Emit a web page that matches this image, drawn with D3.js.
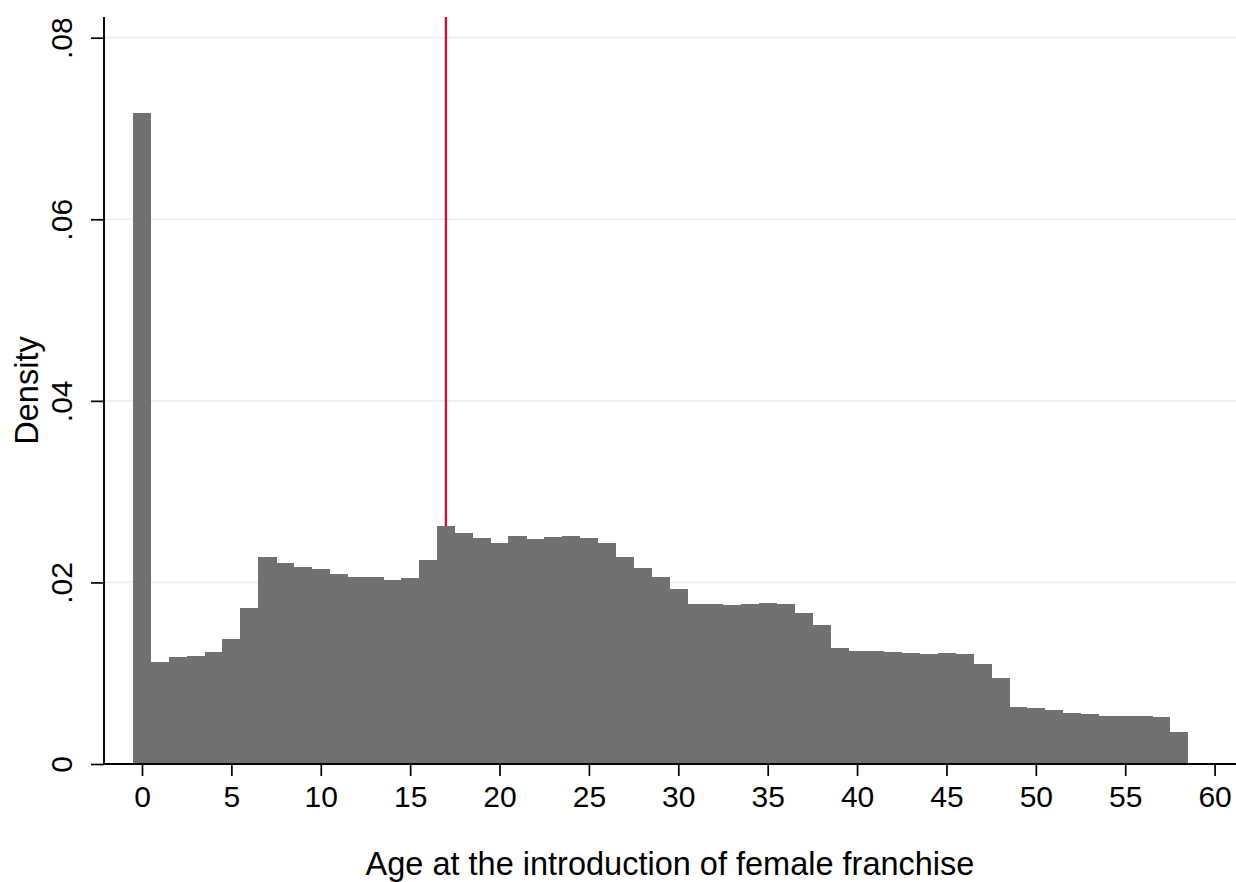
<!DOCTYPE html>
<html>
<head>
<meta charset="utf-8">
<script src="https://cdn.jsdelivr.net/npm/d3@7"></script>
<style>
  html, body { margin: 0; padding: 0; background: #fff; }
  svg { display: block; }
  text { font-family: Arial, "Liberation Sans", Helvetica, sans-serif; fill: #000; }
</style>
</head>
<body>
<script>
// Bin centers (age, width 1) and density values
const binCenters = [0,1,2,3,4,5,6,7,8,9,10,11,12,13,14,15,16,17,18,19,20,21,22,23,24,25,26,27,28,29,30,31,32,33,34,35,36,37,38,39,40,41,42,43,44,45,46,47,48,49,50,51,52,53,54,55,56,57,58];
const densities = [
  0.0717, 0.0112, 0.01175, 0.01186, 0.01233, 0.01377, 0.01714, 0.0228, 0.02217, 0.02166,
  0.02148, 0.02089, 0.02056, 0.02056, 0.0203, 0.02045, 0.02243, 0.02621, 0.0254, 0.02485,
  0.02437, 0.02511, 0.02478, 0.025, 0.02507, 0.02489, 0.02434, 0.02283, 0.02159, 0.02056,
  0.01927, 0.01766, 0.01764, 0.01751, 0.01758, 0.01777, 0.01766, 0.0166, 0.01527, 0.01278,
  0.01241, 0.01241, 0.01233, 0.01222, 0.01208, 0.01219, 0.01211, 0.01105, 0.00944, 0.00624,
  0.0062, 0.00598, 0.00565, 0.00554, 0.00532, 0.00532, 0.00525, 0.00514, 0.00349
];
const binWidth = 1;
const xTicks = [0,5,10,15,20,25,30,35,40,45,50,55,60];
const yTicks = [0, 0.02, 0.04, 0.06, 0.08];
const yTickLabels = ["0", ".02", ".04", ".06", ".08"];
const refLineX = 17;
const xTitle = "Age at the introduction of female franchise";
const yTitle = "Density";

const W = 1236, H = 882;
const plotLeft = 104, plotRight = 1236, plotTop = 17, plotBottom = 764;

const svg = d3.select("body").append("svg").attr("width", W).attr("height", H);

const x = d3.scaleLinear().domain([0, 60]).range([142, 1214.6]);
const y = d3.scaleLinear().domain([0, 0.08]).range([764, 37.7]);

// gridlines
svg.append("g").selectAll("line")
  .data(yTicks.filter(d => d > 0))
  .join("line")
  .attr("x1", plotLeft).attr("x2", plotRight)
  .attr("y1", d => y(d)).attr("y2", d => y(d))
  .attr("stroke", "#e8f0f2").attr("stroke-width", 1.8);

// reference line
svg.append("line")
  .attr("x1", x(refLineX)).attr("x2", x(refLineX))
  .attr("y1", plotTop).attr("y2", plotBottom)
  .attr("stroke", "#d0103a").attr("stroke-width", 2.4);

// bars
svg.append("g").attr("shape-rendering", "crispEdges").selectAll("rect")
  .data(binCenters.map((c, i) => ({c, v: densities[i]})))
  .join("rect")
  .attr("x", d => x(d.c - binWidth / 2))
  .attr("width", d => x(d.c + binWidth / 2) - x(d.c - binWidth / 2) + 0.5)
  .attr("y", d => y(d.v))
  .attr("height", d => y(0) - y(d.v))
  .attr("fill", "#717171");

// x axis
const xAxis = d3.axisBottom(x).tickValues(xTicks).tickSize(12).tickPadding(8).tickFormat(d3.format("d"));
const gx = svg.append("g").attr("transform", `translate(0,${plotBottom})`).call(xAxis);
gx.select(".domain").remove();
gx.selectAll(".tick line").attr("stroke", "#000").attr("stroke-width", 1.7);
gx.selectAll(".tick text").attr("font-size", 30).attr("dy", null).attr("y", 43).attr("fill", "#000");
svg.append("line").attr("x1", plotLeft).attr("x2", plotRight)
  .attr("y1", plotBottom).attr("y2", plotBottom)
  .attr("stroke", "#000").attr("stroke-width", 1.9);

// y axis
const yAxis = d3.axisLeft(y).tickValues(yTicks).tickSize(13).tickFormat((d, i) => yTickLabels[i]);
const gy = svg.append("g").attr("transform", `translate(${plotLeft},0)`).call(yAxis);
gy.select(".domain").remove();
gy.selectAll(".tick line").attr("stroke", "#000").attr("stroke-width", 1.7);
gy.selectAll(".tick text")
  .attr("font-size", 30)
  .attr("x", null).attr("dy", null)
  .attr("text-anchor", "middle")
  .attr("transform", "translate(-32,0) rotate(-90)")
  .attr("fill", "#000");
svg.append("line").attr("x1", plotLeft).attr("x2", plotLeft)
  .attr("y1", plotTop).attr("y2", plotBottom)
  .attr("stroke", "#000").attr("stroke-width", 1.9);

// titles
svg.append("text")
  .attr("x", (plotLeft + plotRight) / 2).attr("y", 875)
  .attr("text-anchor", "middle").attr("font-size", 32.5)
  .text(xTitle);

svg.append("text")
  .attr("transform", `translate(38,${(plotTop + plotBottom) / 2}) rotate(-90)`)
  .attr("text-anchor", "middle").attr("font-size", 32.5)
  .text(yTitle);
</script>
</body>
</html>
